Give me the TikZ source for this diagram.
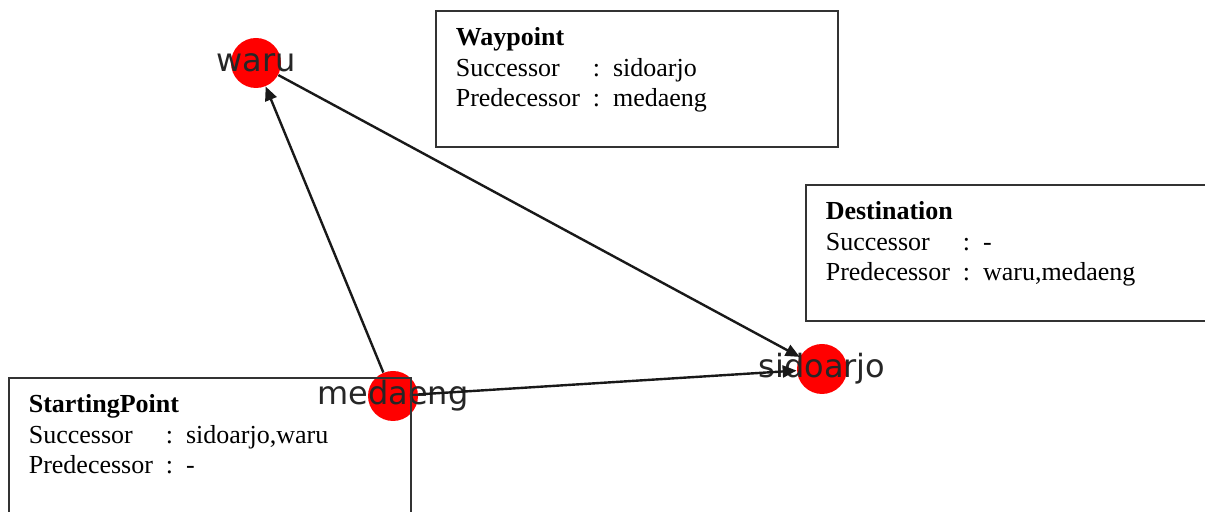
\documentclass[tikz,border=0pt]{standalone}
\usepackage{fontspec}
\setmainfont{Liberation Serif}
\newfontfamily\graphfont{DejaVu Sans}
\usepackage{tikz}
\usetikzlibrary{arrows.meta}

\newcommand{\infokey}[1]{\makebox[68.5pt][l]{#1}}

\begin{document}
\begin{tikzpicture}[
  x=0.5pt, y=-0.5pt,
  city/.style={circle,fill=red,minimum size=25pt,inner sep=0pt,
    font=\graphfont\fontsize{16}{18}\selectfont,text=black!85},
  route/.style={-{Triangle[length=7pt,width=6pt]},line width=1.2pt,black!90},
  info/.style={draw=black!80,line width=0.8pt,anchor=north west,
    text width=181pt,align=left,inner xsep=10pt,inner ysep=8pt,
    text height=9.5pt,text depth=42.5pt,font=\fontsize{13}{15.25}\selectfont},
]
\useasboundingbox (0,0) rectangle (1205,512);
\clip (0,0) rectangle (1205,512);
\fill[white] (0,0) rectangle (1205,512);

% stations
\node[city] (waru) at (256,63) {\makebox[0pt]{waru}};
\node[city] (medaeng) at (393,396) {\makebox[0pt]{medaeng}};
\node[city] (sidoarjo) at (822,369) {\makebox[0pt]{sidoarjo}};

\draw[route] (medaeng) -- (waru);
\draw[route] (medaeng) -- (sidoarjo);
\draw[route] (waru) -- (sidoarjo);

% info boxes
\node[info] (waypoint) at (435,10)
  {\textbf{Waypoint}\\\infokey{Successor}: sidoarjo\\\infokey{Predecessor}: medaeng};
\node[info] (destination) at (805,184)
  {\textbf{Destination}\\\infokey{Successor}: -\\\infokey{Predecessor}: waru,medaeng};
\node[info] (start) at (8,377)
  {\textbf{StartingPoint}\\\infokey{Successor}: sidoarjo,waru\\\infokey{Predecessor}: -};
\end{tikzpicture}
\end{document}
